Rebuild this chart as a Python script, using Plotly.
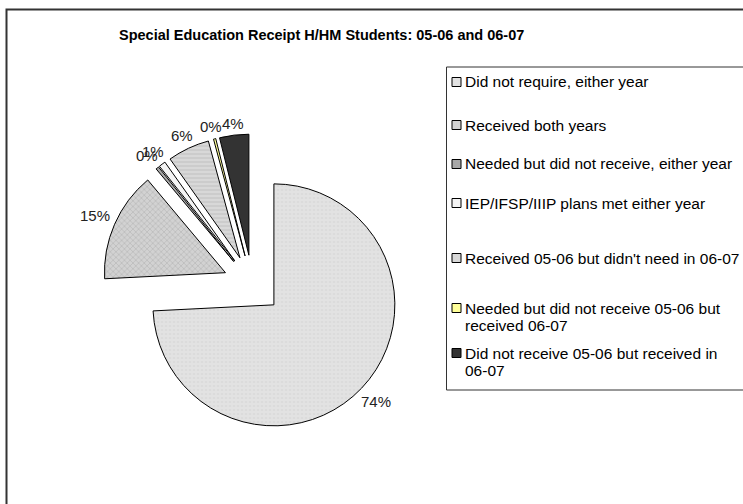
import math
import plotly.graph_objects as go

# Special education receipt categories (slice order, clockwise from 12 o'clock)
categories = [
    "Did not require, either year",
    "Received both years",
    "Needed but did not receive, either year",
    "IEP/IFSP/IIIP plans met either year",
    "Received 05-06 but didn't need in 06-07",
    "Needed but did not receive 05-06 but received 06-07",
    "Did not receive 05-06 but received in 06-07",
]
# Share of H/HM students in each category (percent)
shares = [74.2, 14.7, 0.4, 0.9, 5.6, 0.3, 3.9]

# Legend text as it wraps in the legend box (one list entry per line)
legend_lines = [
    ["Did not require, either year"],
    ["Received both years"],
    ["Needed but did not receive, either year"],
    ["IEP/IFSP/IIIP plans met either year"],
    ["Received 05-06 but didn't need in 06-07"],
    ["Needed but did not receive 05-06 but", "received 06-07"],
    ["Did not receive 05-06 but received in", "06-07"],
]

fills = ["#e2e2e2", "#d2d2d2", "#a8a8a8", "#f4f4f4", "#d8d8d8", "#ffff99", "#333333"]
pat_shapes = [".", "x", "", "", "-", "", ""]
pat_fg = ["#d4d4d4", "#a4a4a4", "#a8a8a8", "#f4f4f4", "#b4b4b4", "#ffff99", "#333333"]

W, H = 743, 504
FONT = "Liberation Sans, Arial, sans-serif"


def px(x):
    return x / W


def py(y):
    return 1 - y / H


# Pie placement in pixels: centre, half of the domain square, pull fraction
cx, cy, half, pull = 252.5, 284.5, 150.5, 0.244
radius = half / (1 + pull)

pie = go.Pie(
    labels=categories,
    values=shares,
    sort=False,
    direction="clockwise",
    rotation=0,
    pull=[pull] * len(shares),
    marker=dict(
        colors=fills,
        line=dict(color="#000000", width=1),
        pattern=dict(
            shape=pat_shapes,
            fgcolor=pat_fg,
            fillmode="overlay",
            size=4,
            solidity=0.35,
        ),
    ),
    textinfo="none",
    showlegend=False,
    hoverinfo="label+percent",
    domain=dict(
        x=[px(cx - half), px(cx + half)],
        y=[py(cy + half), py(cy - half)],
    ),
)

fig = go.Figure(pie)

shapes = []
annotations = []

# Percentage labels just outside each pulled slice, on the slice bisector
LABEL_SIZE = 15
total = sum(shares)
cum = 0.0
for v in shares:
    mid = (cum + v / 2) / total
    cum += v
    theta = 2 * math.pi * mid
    dx, dy = math.sin(theta), -math.cos(theta)
    text = f"{round(100 * v / total)}%"
    hw = 0.5 * LABEL_SIZE * (0.556 * (len(text) - 1) + 0.889)
    hh = 0.5 * LABEL_SIZE * 0.72
    dist = radius * (1 + pull) + 5 + hw * abs(dx) + hh * abs(dy)
    annotations.append(dict(
        text=text, x=px(cx + dist * dx), y=py(cy + dist * dy),
        xref="paper", yref="paper", xanchor="center", yanchor="middle",
        showarrow=False,
        font=dict(family=FONT, size=LABEL_SIZE, color="#222222"),
    ))

# Chart-area frame (runs off the right and bottom edges)
shapes.append(dict(
    type="rect", xref="paper", yref="paper",
    x0=px(6.5), x1=px(W + 20), y0=py(H + 20), y1=py(9.5),
    line=dict(color="#333333", width=2), fillcolor="rgba(0,0,0,0)",
))

# Title
annotations.append(dict(
    text="<b>Special Education Receipt H/HM Students: 05-06 and 06-07</b>",
    x=px(321), y=py(35), xref="paper", yref="paper",
    xanchor="center", yanchor="middle", showarrow=False,
    font=dict(family=FONT, size=14.5, color="#000000"),
))

# Legend box (runs off the right edge)
shapes.append(dict(
    type="rect", xref="paper", yref="paper",
    x0=px(446.5), x1=px(W + 20), y0=py(390), y1=py(67),
    line=dict(color="#333333", width=1), fillcolor="rgba(0,0,0,0)",
))

LINE_GAP = 17
row_y = [82, 125, 164, 203, 258, 308, 353]
for lines, fill, y in zip(legend_lines, fills, row_y):
    shapes.append(dict(
        type="rect", xref="paper", yref="paper",
        x0=px(452), x1=px(461), y0=py(y + 4.5), y1=py(y - 4.5),
        line=dict(color="#000000", width=1), fillcolor=fill,
    ))
    for k, line in enumerate(lines):
        annotations.append(dict(
            text=line, x=px(463), y=py(y + k * LINE_GAP),
            xref="paper", yref="paper",
            xanchor="left", yanchor="middle", align="left", showarrow=False,
            font=dict(family=FONT, size=15.5, color="#000000"),
        ))

fig.update_layout(
    width=W, height=H,
    margin=dict(l=0, r=0, t=0, b=0),
    paper_bgcolor="#ffffff",
    plot_bgcolor="#ffffff",
    shapes=shapes,
    annotations=annotations,
)

fig.write_html("out.html")
